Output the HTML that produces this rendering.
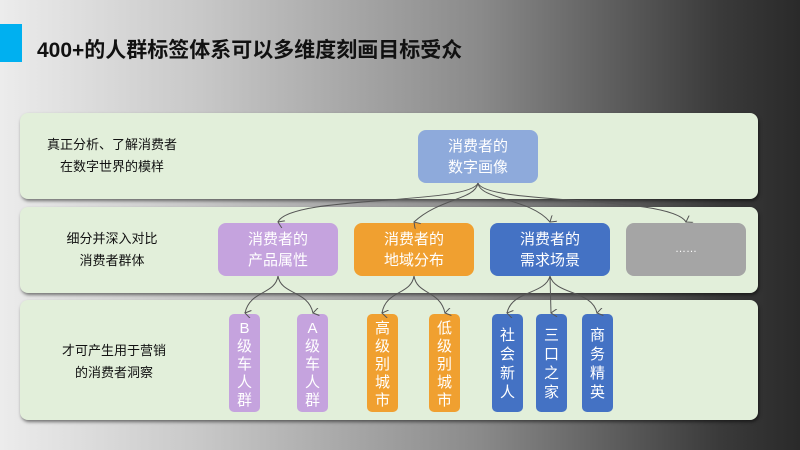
<!DOCTYPE html>
<html><head><meta charset="utf-8"><style>
body{margin:0;width:800px;height:450px;overflow:hidden;background:linear-gradient(90deg,#ececec 0%,#c8c8c8 25%,#8a8a8a 60%,#3a3a3a 90%,#2a2a2a 100%);font-family:"Liberation Sans","Noto Sans CJK SC",sans-serif;position:relative}
.a{position:absolute}
.p{position:absolute;left:20px;width:738px;background:#e2efda;border-radius:8px;box-shadow:1px 2px 3px rgba(0,0,0,.5)}
.n{position:absolute;border-radius:8px;color:#fff;font-size:15px;line-height:21px;display:flex;align-items:center;justify-content:center;text-align:center}
.v{position:absolute;top:314px;width:31px;height:98px;border-radius:5px;color:#fff;font-size:15px;line-height:18px;text-align:center;padding-top:6px;box-sizing:border-box}
.l{position:absolute;font-size:13px;line-height:22px;color:#111;text-align:center;width:200px}
</style></head><body>
<div class="a" style="left:0;top:24px;width:22px;height:38px;background:#00b0f0"></div>
<div class="a" style="left:37px;top:34px;font-size:21px;font-weight:bold;color:#111;white-space:nowrap">400+的人群标签体系可以多维度刻画目标受众</div>
<div class="p" style="top:113px;height:86px"></div>
<div class="p" style="top:207px;height:86px"></div>
<div class="p" style="top:300px;height:120px"></div>
<div class="l" style="left:12px;top:134px">真正分析、了解消费者<br>在数字世界的模样</div>
<div class="l" style="left:12px;top:228px">细分并深入对比<br>消费者群体</div>
<div class="l" style="left:14px;top:340px">才可产生用于营销<br>的消费者洞察</div>
<div class="n" style="left:418px;top:130px;width:120px;height:53px;background:#8eaadb">消费者的<br>数字画像</div>
<div class="n" style="left:218px;top:223px;width:120px;height:53px;background:#c5a3de">消费者的<br>产品属性</div>
<div class="n" style="left:354px;top:223px;width:120px;height:53px;background:#f0a030">消费者的<br>地域分布</div>
<div class="n" style="left:490px;top:223px;width:120px;height:53px;background:#4472c4">消费者的<br>需求场景</div>
<div class="n" style="left:626px;top:223px;width:120px;height:53px;background:#a5a5a5;font-size:11px">……</div>
<div class="v" style="left:229px;background:#c5a3de">B<br>级<br>车<br>人<br>群</div>
<div class="v" style="left:297px;background:#c5a3de">A<br>级<br>车<br>人<br>群</div>
<div class="v" style="left:367px;background:#f0a030">高<br>级<br>别<br>城<br>市</div>
<div class="v" style="left:429px;background:#f0a030">低<br>级<br>别<br>城<br>市</div>
<div class="v" style="left:492px;background:#4472c4;padding-top:12px;line-height:19px">社<br>会<br>新<br>人</div>
<div class="v" style="left:536px;background:#4472c4;padding-top:12px;line-height:19px">三<br>口<br>之<br>家</div>
<div class="v" style="left:582px;background:#4472c4;padding-top:12px;line-height:19px">商<br>务<br>精<br>英</div>
<svg class="a" style="left:0;top:0" width="800" height="450" fill="none" stroke="#555" stroke-width="1">
<defs><marker id="m" markerWidth="8" markerHeight="8" refX="4" refY="7" orient="auto-start-reverse" markerUnits="userSpaceOnUse"><path d="M0,1 L4,7 L8,1" fill="none" stroke="#555"/></marker></defs>
<g marker-end="url(#m)">
<path d="M478,183 C470,205 290,195 278,222"/>
<path d="M478,183 C475,200 440,198 414,222" />
<path d="M478,183 C480,200 530,198 550,222"/>
<path d="M478,183 C485,205 670,195 686,222"/>
<path d="M278,276 C275,295 250,290 245,313"/>
<path d="M278,276 C281,295 308,290 313,313"/>
<path d="M414,276 C411,295 386,290 382,313"/>
<path d="M414,276 C417,295 440,290 445,313"/>
<path d="M550,276 C545,295 512,290 507,313"/>
<path d="M550,276 L551,313"/>
<path d="M550,276 C555,295 592,290 597,313"/>
</g></svg>
</body></html>
